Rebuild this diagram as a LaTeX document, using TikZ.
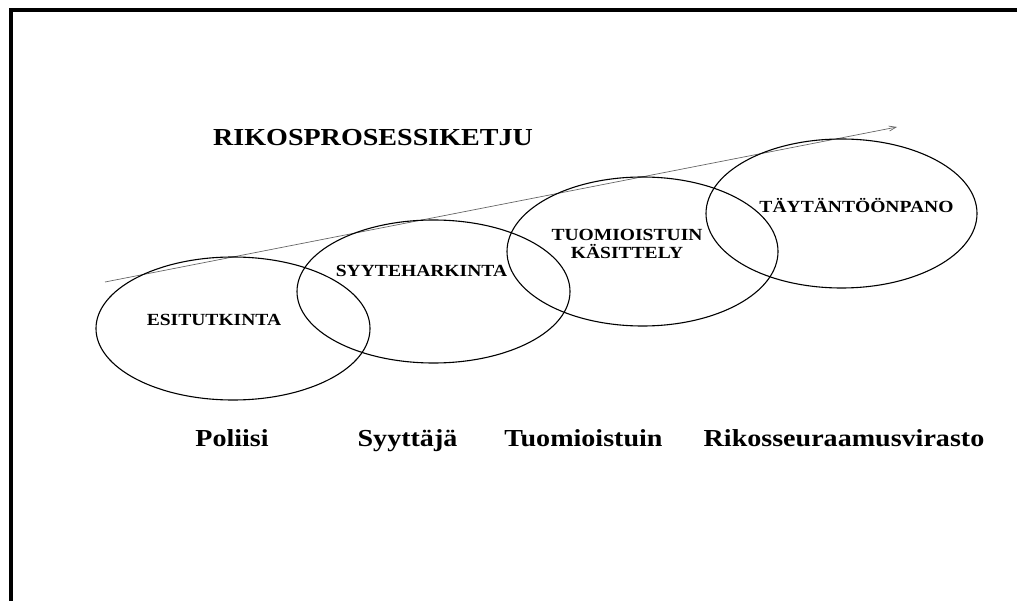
\documentclass[tikz,border=0pt]{standalone}
\usepackage{fontspec}
\setmainfont{Liberation Serif}[FakeStretch=1.15]
\usetikzlibrary{arrows.meta}
\tikzset{oval/.style = {line width = 1.1, black}}
\tikzset{stage/.style = {font = \fontsize{17}{18.5}\selectfont\bfseries, inner sep = 0, align = center}}
\tikzset{actor/.style = {font = \fontsize{24.4}{28}\selectfont\bfseries, inner sep = 0, anchor = base}}

\begin{document}
\begin{tikzpicture}[x = 1pt, y = -1pt]
    \useasboundingbox (0, 0) rectangle (1027, 601);
    \draw [line width = 4] (1017, 10.5) -- (10.5, 10.5) -- (10.5, 605);

    \node [actor] (title) at (373, 146) {RIKOSPROSESSIKETJU};

    \coordinate (tail) at (105, 282);
    \coordinate (head) at (897, 127);
    \draw [gray!80!black, line width = 0.7, -{Straight Barb[length = 7pt, width = 5pt]}] (tail) -- (head);

    \coordinate (c1) at (233, 328.5);
    \coordinate (c2) at (433.5, 291.5);
    \coordinate (c3) at (642.5, 251.5);
    \coordinate (c4) at (841.5, 213.5);

    \draw [oval] (c1) ellipse [x radius = 137, y radius = 71.5];
    \draw [oval] (c2) ellipse [x radius = 136.5, y radius = 71.5];
    \draw [oval] (c3) ellipse [x radius = 135.5, y radius = 74.5];
    \draw [oval] (c4) ellipse [x radius = 135.5, y radius = 74.5];

    \node [stage, anchor = base] (esi) at (214, 325.5) {ESITUTKINTA};
    \node [stage, anchor = base] (syy) at (421.5, 277) {SYYTEHARKINTA};
    \node [stage] (tuo) at (627, 244) {TUOMIOISTUIN\\KÄSITTELY};
    \node [stage, anchor = base] (tay) at (856.5, 213) {TÄYTÄNTÖÖNPANO};

    \node [actor] (pol) at (232, 446) {Poliisi};
    \node [actor] (syt) at (407.5, 446) {Syyttäjä};
    \node [actor] (tst) at (583.5, 446) {Tuomioistuin};
    \node [actor] (rsv) at (844, 446) {Rikosseuraamusvirasto};
  \end{tikzpicture}
\end{document}
